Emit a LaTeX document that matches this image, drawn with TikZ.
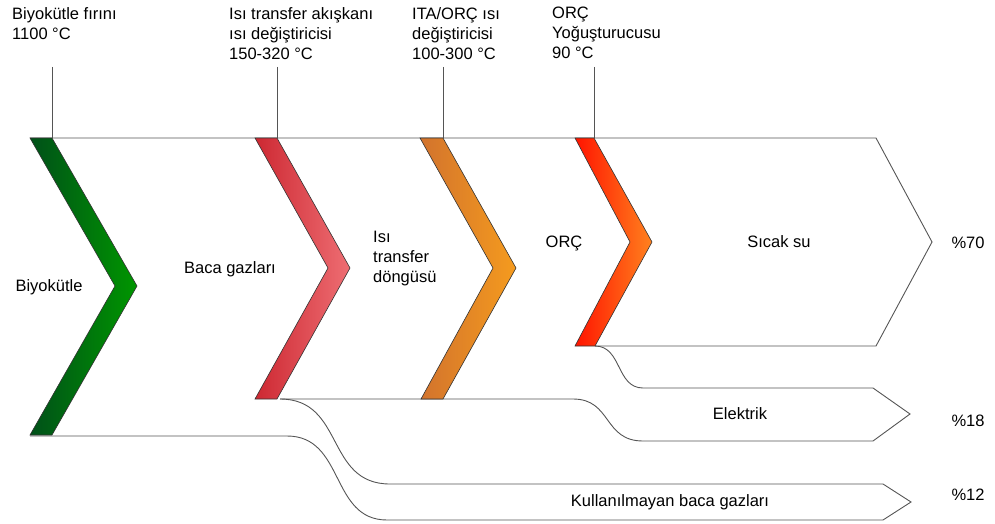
\documentclass[tikz,border=0pt]{standalone}
\usepackage{fontspec}
\setmainfont{Liberation Sans}
\usepackage{xcolor}

\definecolor{yesilA}{RGB}{0,80,25}
\definecolor{yesilB}{RGB}{0,150,0}
\definecolor{kirmiziA}{RGB}{205,40,50}
\definecolor{kirmiziB}{RGB}{238,110,115}
\definecolor{turuncuA}{RGB}{210,115,45}
\definecolor{turuncuB}{RGB}{245,155,30}
\definecolor{alevA}{RGB}{255,20,0}
\definecolor{alevB}{RGB}{255,130,30}
\definecolor{cizgi}{RGB}{85,85,85}

\tikzset{
  akis/.style={draw=cizgi, line width=0.9pt},
  ok/.style={draw=black!80, line width=0.6pt},
  yazi/.style={inner sep=0pt, font=\fontsize{16.5}{20}\selectfont},
  baslik/.style={yazi, anchor=north west, align=left}
}

\begin{document}
\begin{tikzpicture}[x=1pt, y=-1pt]
    \useasboundingbox (0,0) rectangle (995,524);

    % ust etiketler
    \node[baslik] (firin) at (12,7) {Biyokütle fırını\\1100 °C};
    \node[baslik] (akiskan) at (229,7) {Isı transfer akışkanı\\ısı değiştiricisi\\150-320 °C};
    \node[baslik] (itaorc) at (412,7) {ITA/ORÇ ısı\\değiştiricisi\\100-300 °C};
    \node[baslik] (yogus) at (552,7) {ORÇ\\Yoğuşturucusu\\90 °C};

    \coordinate (u1) at (52,67);  \coordinate (a1) at (52,138);
    \coordinate (u2) at (277,67); \coordinate (a2) at (277,138);
    \coordinate (u3) at (443,67); \coordinate (a3) at (443,138);
    \coordinate (u4) at (594,67); \coordinate (a4) at (594,138);
    \foreach \i in {1,...,4}
        \draw[akis] (u\i) -- (a\i);

    % akislar
    \draw[akis] (30,138) -- (876,138) -- (932,242) -- (876,346) -- (595,346);
    \draw[akis] (595,346) .. controls (622,346) and (616,388) .. (643,388)
        -- (873,388) -- (910,414) -- (873,441) -- (643,441)
        .. controls (603,441) and (612,399) .. (573,399) -- (280,399);
    \draw[akis] (280,399) .. controls (345,399) and (325,484) .. (390,484)
        -- (883,484) -- (911,502) -- (883,520) -- (387,520)
        .. controls (330,520) and (345,436) .. (287,436) -- (30,436);

    % sevronlar
    \path[ok, left color=yesilA, right color=yesilB]
        (30,138) -- (52,138) -- (137,286) -- (52,435) -- (30,435) -- (115,286) -- cycle;
    \path[ok, left color=kirmiziA, right color=kirmiziB]
        (255,138) -- (277,138) -- (350,268) -- (277,399) -- (255,399) -- (328,268) -- cycle;
    \path[ok, left color=turuncuA, right color=turuncuB]
        (420,138) -- (443,138) -- (516,268) -- (443,399) -- (421,399) -- (493,268) -- cycle;
    \path[ok, left color=alevA, right color=alevB]
        (575,138) -- (594,138) -- (652,242) -- (595,346) -- (575,346) -- (630,242) -- cycle;

    % ic etiketler
    \node[yazi] (biyokutle) at (49,287) {Biyokütle};
    \node[yazi] (baca) at (230,269) {Baca gazları};
    \node[yazi, anchor=west, align=left] (dongu) at (373,259) {Isı\\transfer\\döngüsü};
    \node[yazi] (orc) at (564,243) {ORÇ};
    \node[yazi] (sicak) at (779,242) {Sıcak su};
    \node[yazi] (elektrik) at (740,414) {Elektrik};
    \node[yazi] (kayip) at (670,502) {Kullanılmayan baca gazları};

    \node[yazi] (p70) at (968,243) {\%70};
    \node[yazi] (p18) at (968,421) {\%18};
    \node[yazi] (p12) at (968,495) {\%12};
\end{tikzpicture}
\end{document}
